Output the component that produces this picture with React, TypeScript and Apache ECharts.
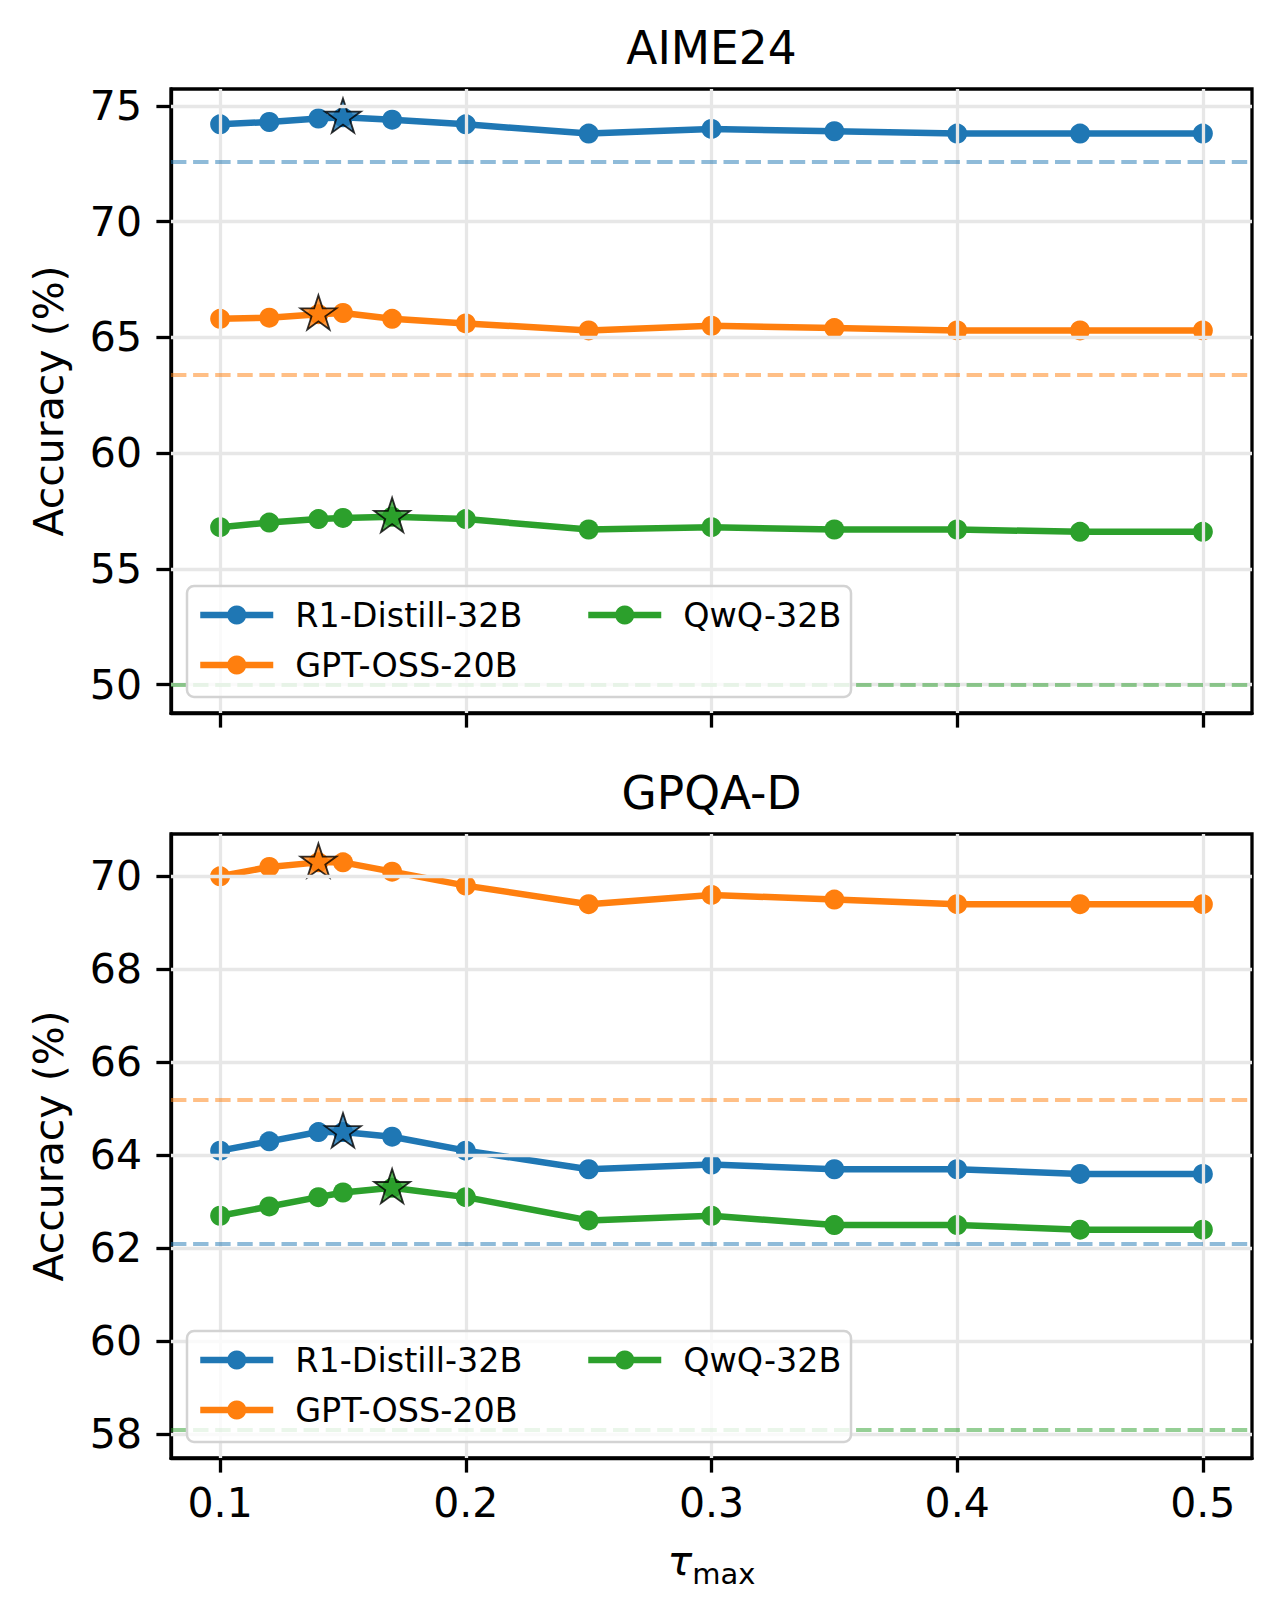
import React, { useEffect, useRef } from "react";
import * as echarts from "echarts";

// ---------- data ----------
const TAU = [0.1, 0.12, 0.14, 0.15, 0.17, 0.2, 0.25, 0.3, 0.35, 0.4, 0.45, 0.5];
const X_TICKS = [0.1, 0.2, 0.3, 0.4, 0.5];
const MODELS = ["R1-Distill-32B", "GPT-OSS-20B", "QwQ-32B"];
const COLORS = ["#1f77b4", "#ff7f0e", "#2ca02c"];
const BASE_COLORS = ["rgba(31,119,180,0.5)", "rgba(255,127,14,0.5)", "rgba(44,160,44,0.5)"];

const AIME_TITLE = "AIME24";
const AIME_R1 = [74.2, 74.3, 74.45, 74.5, 74.4, 74.2, 73.8, 74.0, 73.9, 73.8, 73.8, 73.8];
const AIME_GPT = [65.8, 65.85, 66.0, 66.05, 65.8, 65.6, 65.3, 65.5, 65.4, 65.3, 65.3, 65.3];
const AIME_QWQ = [56.8, 57.0, 57.15, 57.2, 57.25, 57.15, 56.7, 56.8, 56.7, 56.7, 56.6, 56.6];
const AIME_BASE = [72.6, 63.4, 50.0];
const AIME_BEST = [3, 2, 4];
const AIME_TICKS = [50, 55, 60, 65, 70, 75];

const GPQA_TITLE = "GPQA-D";
const GPQA_R1 = [64.1, 64.3, 64.5, 64.5, 64.4, 64.1, 63.7, 63.8, 63.7, 63.7, 63.6, 63.6];
const GPQA_GPT = [70.0, 70.2, 70.3, 70.3, 70.1, 69.8, 69.4, 69.6, 69.5, 69.4, 69.4, 69.4];
const GPQA_QWQ = [62.7, 62.9, 63.1, 63.2, 63.3, 63.1, 62.6, 62.7, 62.5, 62.5, 62.4, 62.4];
const GPQA_BASE = [62.1, 65.2, 58.1];
const GPQA_BEST = [3, 2, 4];
const GPQA_TICKS = [58, 60, 62, 64, 66, 68, 70];

const Y_NAME = "Accuracy (%)";

// ---------- style ----------
const FONT = "DejaVu Sans";
const GRID_LEFT = 171;
const GRID_W = 1081;
const GRID_H = 624;
const GRID_TOPS = [89, 834];
const TITLE_TOPS = [26, 771];
const LEGEND_FRAME_TOPS = [586, 1331];
const SPINE = 3.3;
const LINE_W = 6.5;

const STAR_PATH = (() => {
  const pts: string[] = [];
  for (let i = 0; i < 10; i++) {
    const r = i % 2 === 0 ? 100 : 38.1966;
    const a = -Math.PI / 2 + (i * Math.PI) / 5;
    pts.push(`${(r * Math.cos(a)).toFixed(3)} ${(r * Math.sin(a)).toFixed(3)}`);
  }
  return "path://M" + pts.join(" L") + " Z";
})();

function padRange(arrs: number[][]): [number, number] {
  const all = arrs.flat();
  const lo = Math.min(...all);
  const hi = Math.max(...all);
  const m = (hi - lo) * 0.05;
  return [lo - m, hi + m];
}

function buildOption() {
  const panels = [
    { title: AIME_TITLE, vals: [AIME_R1, AIME_GPT, AIME_QWQ], base: AIME_BASE, best: AIME_BEST, ticks: AIME_TICKS },
    { title: GPQA_TITLE, vals: [GPQA_R1, GPQA_GPT, GPQA_QWQ], base: GPQA_BASE, best: GPQA_BEST, ticks: GPQA_TICKS },
  ];

  const grid: any[] = [];
  const xAxis: any[] = [];
  const yAxis: any[] = [];
  const series: any[] = [];
  const title: any[] = [];
  const legend: any[] = [];
  const graphic: any[] = [];

  panels.forEach((p, k) => {
    grid.push({
      left: GRID_LEFT,
      top: GRID_TOPS[k],
      width: GRID_W,
      height: GRID_H,
      show: true,
      borderColor: "#000",
      borderWidth: SPINE,
      backgroundColor: "transparent",
    });
    const isBottom = k === panels.length - 1;
    xAxis.push({
      type: "value",
      gridIndex: k,
      min: 0.08,
      max: 0.52,
      axisLine: { show: true, lineStyle: { color: "#000", width: SPINE } },
      axisTick: { show: true, inside: false, length: 14.6, customValues: X_TICKS, lineStyle: { color: "#000", width: SPINE } },
      axisLabel: {
        show: isBottom,
        customValues: X_TICKS,
        margin: 24,
        fontFamily: FONT,
        fontSize: 41,
        color: "#000",
        formatter: (v: number) => v.toFixed(1),
      },
      splitLine: { show: false },
      ...(isBottom
        ? {
            name: "{t|τ}{s|max}",
            nameLocation: "middle",
            nameGap: 82,
            nameTextStyle: {
              fontFamily: FONT,
              color: "#000",
              rich: {
                t: { fontFamily: FONT, fontSize: 41, fontStyle: "italic", lineHeight: 48, verticalAlign: "top", color: "#000" },
                s: { fontFamily: FONT, fontSize: 29, lineHeight: 30, verticalAlign: "bottom", color: "#000" },
              },
            },
          }
        : {}),
    });
    const [ymin, ymax] = padRange([...p.vals, p.base]);
    yAxis.push({
      type: "value",
      gridIndex: k,
      min: ymin,
      max: ymax,
      name: Y_NAME,
      nameLocation: "middle",
      nameGap: 102,
      nameTextStyle: { fontFamily: FONT, fontSize: 41, color: "#000", lineHeight: 41 },
      axisLine: { show: true, lineStyle: { color: "#000", width: SPINE } },
      axisTick: { show: true, inside: false, length: 14.6, customValues: p.ticks, lineStyle: { color: "#000", width: SPINE } },
      axisLabel: {
        customValues: p.ticks,
        margin: 29,
        fontFamily: FONT,
        fontSize: 41,
        color: "#000",
        formatter: (v: number) => String(v),
      },
      splitLine: { show: false },
    });

    // grid lines
    series.push({
      type: "line",
      xAxisIndex: k,
      yAxisIndex: k,
      data: [],
      silent: true,
      z: 1,
      markLine: {
        silent: true,
        symbol: ["none", "none"],
        label: { show: false },
        animation: false,
        lineStyle: { color: "#e7e7e7", width: 3.3, type: "solid" },
        emphasis: { disabled: true },
        data: [...X_TICKS.map((v) => ({ xAxis: v })), ...p.ticks.map((v) => ({ yAxis: v }))],
      },
    });
    // baselines
    series.push({
      type: "line",
      xAxisIndex: k,
      yAxisIndex: k,
      data: [],
      silent: true,
      z: 1,
      markLine: {
        silent: true,
        symbol: ["none", "none"],
        label: { show: false },
        animation: false,
        emphasis: { disabled: true },
        data: p.base.map((v, i) => ({
          yAxis: v,
          lineStyle: { color: BASE_COLORS[i], width: 4.2, type: [15.4, 6.7] },
        })),
      },
    });
    // model curves
    p.vals.forEach((vals, i) => {
      series.push({
        name: MODELS[i],
        type: "line",
        xAxisIndex: k,
        yAxisIndex: k,
        data: TAU.map((x, j) => [x, vals[j]]),
        symbol: "circle",
        symbolSize: 20,
        showSymbol: true,
        color: COLORS[i],
        lineStyle: { color: COLORS[i], width: LINE_W, join: "round" },
        itemStyle: { color: COLORS[i] },
        emphasis: { disabled: true },
        z: 2,
      });
    });
    // best-point stars
    p.vals.forEach((vals, i) => {
      const j = p.best[i];
      series.push({
        name: MODELS[i] + " (best)",
        type: "scatter",
        xAxisIndex: k,
        yAxisIndex: k,
        data: [[TAU[j], vals[j]]],
        symbol: STAR_PATH,
        symbolSize: [36, 34.3],
        symbolOffset: [0, -1.8],
        itemStyle: { color: COLORS[i], borderColor: "#000", borderWidth: 1.8 },
        emphasis: { disabled: true },
        z: 3,
      });
    });

    title.push({
      text: p.title,
      left: GRID_LEFT + GRID_W / 2,
      top: TITLE_TOPS[k],
      textAlign: "center",
      padding: 0,
      textStyle: { fontFamily: FONT, fontSize: 45.5, fontWeight: "normal", color: "#000", lineHeight: 45 },
    });

    const fy = LEGEND_FRAME_TOPS[k];
    graphic.push({
      type: "rect",
      x: 187,
      y: fy,
      z: 10,
      silent: true,
      shape: { width: 664, height: 111, r: 7 },
      style: { fill: "rgba(255,255,255,0.8)", stroke: "#d3d3d3", lineWidth: 2.5 },
    });
    const legCommon = {
      orient: "vertical",
      top: fy + 9,
      padding: 0,
      itemWidth: 73,
      itemHeight: 24,
      itemGap: 10,
      selectedMode: false,
      z: 11,
      lineStyle: { width: LINE_W },
      textStyle: { fontFamily: FONT, fontSize: 33.4, color: "#000", lineHeight: 40, padding: [0, 0, 0, 17] },
    };
    legend.push({ ...legCommon, left: 197, data: [MODELS[0], MODELS[1]] });
    legend.push({ ...legCommon, left: 585, data: [MODELS[2]] });
  });

  return {
    animation: false,
    backgroundColor: "#fff",
    textStyle: { fontFamily: FONT },
    title,
    legend,
    grid,
    xAxis,
    yAxis,
    series,
    graphic: { elements: graphic },
  };
}

export default function App() {
  const ref = useRef<HTMLDivElement>(null);
  useEffect(() => {
    if (!ref.current) return;
    const chart = echarts.init(ref.current, undefined, { renderer: "svg" });
    chart.setOption(buildOption() as any);
    return () => chart.dispose();
  }, []);
  return (
    <div
      ref={ref}
      style={{ position: "absolute", left: 0, top: 0, width: 1280, height: 1617, background: "#fff" }}
    />
  );
}
